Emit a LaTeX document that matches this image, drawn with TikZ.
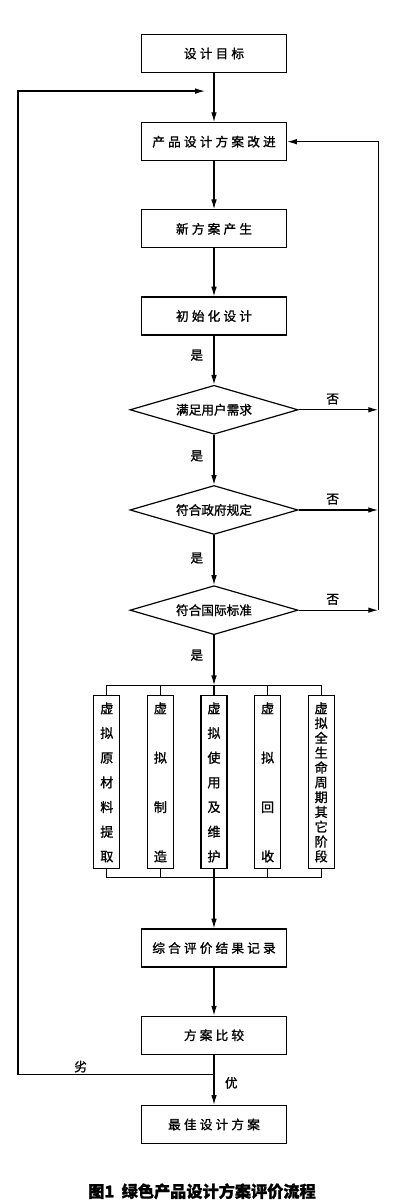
\documentclass[tikz,border=0pt]{standalone}
\usepackage{fontspec}
\usepackage{tikz}
\usetikzlibrary{arrows.meta, positioning, shapes.geometric}
\newfontfamily\cjk{Noto Sans CJK SC}[FakeBold=1.2]
\newfontfamily\cjkwide{Noto Sans CJK SC}[LetterSpace=25, FakeBold=1.2]

\begin{document}
\begin{tikzpicture}[
  box/.style={draw, minimum width=3.625cm, minimum height=0.95cm, inner sep=0pt, align=center, font=\cjkwide\fontsize{9pt}{11pt}\selectfont},
  cond/.style={draw, diamond, aspect=3.4, minimum width=4.2cm, minimum height=1.225cm, inner sep=1pt, font=\cjk\fontsize{9pt}{11pt}\selectfont},
  vbox/.style={draw, minimum width=0.65cm, minimum height=4.325cm, inner sep=0pt, align=center, font=\cjk\fontsize{9.3pt}{#1}\selectfont},
  lbl/.style={font=\cjk\fontsize{9pt}{11pt}\selectfont},
  >={Latex[length=7pt,width=4pt]}, node distance=1.2cm, line width=0.85pt
]
\useasboundingbox (0,0) rectangle (10,-30);

\node[box] (goal) at (5.35,-1.3375) {设计目标};
\node[box, below=1.225cm of goal] (imp) {产品设计方案改进};
\node[box, below=of imp] (new) {新方案产生};
\node[box, below=of new] (init) {初始化设计};
\node[cond, below=1.225cm of init] (user) {满足用户需求};
\node[cond, below=1.25cm of user] (gov) {符合政府规定};
\node[cond, below=1.25cm of gov] (intl) {符合国际标准};
\node[vbox=17.55pt, below=1.5cm of intl] (use) {虚\\拟\\使\\用\\及\\维\\护};
\node[vbox=35.1pt, left=0.66cm of use] (make) {虚\\拟\\制\\造};
\node[vbox=17.55pt, left=0.66cm of make] (raw) {虚\\拟\\原\\材\\料\\提\\取};
\node[vbox=35.1pt, right=0.66cm of use] (recy) {虚\\拟\\回\\收};
\node[vbox=10.53pt, right=0.66cm of recy] (other) {虚\\拟\\全\\生\\命\\周\\期\\其\\它\\阶\\段};
\node[box, below=1.475cm of use] (eval) {综合评价结果记录};
\node[box, below=of eval] (cmp) {方案比较};
\node[box, below=1.25cm of cmp] (best) {最佳设计方案};
\node[font=\cjk\bfseries\fontsize{11.5pt}{13pt}\selectfont, below=0.85cm of best, xshift=-0.3cm] (cap) {图1\ \ 绿色产品设计方案评价流程};

\coordinate[above=0.25cm of use] (topbar);
\coordinate[below=0.2cm of use] (botbar);
\coordinate[right=2.275cm of imp] (rtop);
\coordinate[below=0.5cm of cmp] (jn);
\coordinate[below=0.45cm of goal, xshift=-0.225cm] (back);

% 主流程
\draw[->] (goal) -- (imp);
\draw[->] (imp)  -- (new);
\draw[->] (new)  -- (init);
\draw[->] (init) -- node[lbl, pos=0.4, left=4pt]{是} (user);
\draw[->] (user) -- node[lbl, pos=0.42, left=4pt]{是} (gov);
\draw[->] (gov)  -- node[lbl, pos=0.46, left=4pt]{是} (intl);
\draw[->] (intl) -- node[lbl, pos=0.4, left=4pt]{是} (topbar);

% 虚拟阶段的上下汇线
\draw (raw.north) |- (topbar) -| (other.north);
\draw (make.north) -- (make.north |- topbar);
\draw (use.north)  -- (topbar);
\draw (recy.north) -- (recy.north |- topbar);
\draw (raw.south) |- (botbar) -| (other.south);
\draw (make.south) -- (make.south |- botbar);
\draw (use.south)  -- (botbar);
\draw (recy.south) -- (recy.south |- botbar);

\draw[->] (botbar) -- (eval);
\draw[->] (eval)   -- (cmp);
\draw[->] (cmp)    -- node[lbl, pos=0.56, right=4pt]{优} (best);

% 右侧返回（否）
\draw[->] (user) -- node[lbl, above, xshift=-4pt]{否} (user -| rtop);
\draw[->] (gov)  -- node[lbl, above, xshift=-4pt]{否} (gov -| rtop);
\draw[->] (intl) -- node[lbl, above, xshift=-4pt]{否} (intl -| rtop);
\draw[->] (intl -| rtop) -- (rtop) -- (imp);

% 左侧返回（劣）
\draw[->] (jn)
  -- node[lbl, pos=0.68, above=-2pt]{劣} ++(-4.9cm,0)
  |- (back);

\end{tikzpicture}
\end{document}
